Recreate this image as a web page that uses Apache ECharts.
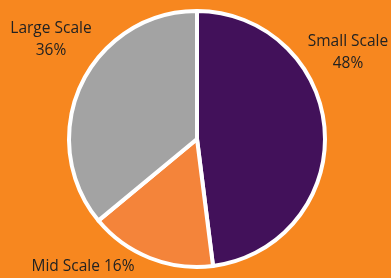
<!DOCTYPE html>
<html>
<head>
<meta charset="utf-8">
<script src="https://cdn.jsdelivr.net/npm/echarts@6/dist/echarts.min.js"></script>
<style>
  html, body { margin: 0; padding: 0; background: #F7871F; }
  #chart { width: 391px; height: 278px; }
</style>
</head>
<body>
<div id="chart"></div>
<script>
const categories = ['Small Scale', 'Mid Scale', 'Large Scale']
const values = [48, 16, 36]
const colors = ['#42115A', '#F4843A', '#A3A3A3']
// label block centres (text only)
const labelSpots = [[348, 53], [83, 267], [51, 40]]

const chart = echarts.init(document.getElementById('chart'))

chart.setOption({
  backgroundColor: '#F7871F',
  animation: false,
  series: [
    {
      type: 'pie',
      center: [197, 139],
      radius: [0, 128],
      startAngle: 90,
      clockwise: true,
      avoidLabelOverlap: false,
      data: categories.map((name, i) => ({
        name,
        value: values[i],
        itemStyle: { color: colors[i] },
        label: { formatter: i === 1 ? '{b} {c}%' : '{b}\n{c}%' }
      })),
      itemStyle: {
        borderColor: '#ffffff',
        borderWidth: 4
      },
      label: {
        show: true,
        position: 'outside',
        alignTo: 'none',
        overflow: 'none',
        bleedMargin: 0,
        color: '#222222',
        fontFamily: 'Open Sans',
        fontSize: 15.5,
        lineHeight: 22,
        align: 'center'
      },
      labelLine: { show: false },
      labelLayout: (params) => ({
        x: labelSpots[params.dataIndex][0],
        y: labelSpots[params.dataIndex][1],
        align: 'center',
        verticalAlign: 'middle',
        hideOverlap: false
      }),
      emphasis: { disabled: true }
    }
  ]
})
</script>
</body>
</html>
